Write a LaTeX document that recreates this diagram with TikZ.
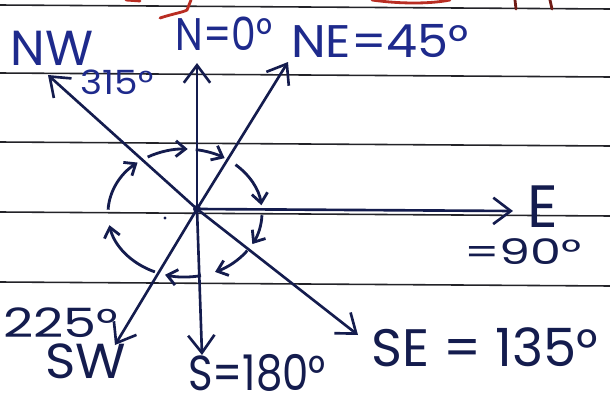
\documentclass[tikz,border=0pt]{standalone}
\usepackage{fontspec}
\setmainfont{Poppins}
\usepackage{graphicx}
\usetikzlibrary{arrows.meta}
\definecolor{ink}{RGB}{20,28,78}
\definecolor{pen}{RGB}{30,42,140}
\definecolor{redink}{RGB}{185,45,35}
\definecolor{rule}{RGB}{35,35,40}

\begin{document}
\begin{tikzpicture}[x=0.02cm, y=0.02cm,
  axis/.style={ink, line width=1.5pt, -{Straight Barb[length=10pt, width=15pt]}},
  ring/.style={ink, line width=1.6pt, -{Straight Barb[length=5.5pt, width=9pt]}},
  lab/.style={inner sep=0pt, anchor=base, font=\fontsize{#1}{#1}\selectfont},
  lab/.default=26]
  \useasboundingbox[fill=white] (0,0) rectangle (610,400);
  % ruled paper
  \foreach \y in {5, 73, 142, 212, 282}
    \draw[rule, line width=0.9pt] (0,400-\y) -- (610,396-\y);
  % cut-off red heading
  \draw[redink, line width=1.6pt, line cap=round]
    (160,382) .. controls (172,386) and (184,388) .. (187,390) -- (191,400)
    (126,400) -- (140,399) (372,400) .. controls (400,396) and (430,396) .. (450,400);
  \draw[redink!60!black, line width=1.6pt, line cap=round]
    (515,400) -- (516,391) (550,400) -- (552,391);
  % centre and tips
  \coordinate (O) at (197,191);
  \coordinate (R) at (185,187);
  \coordinate (n) at (197,337);
  \coordinate (ne) at (288,338);
  \coordinate (e) at (513,189);
  \coordinate (se) at (358,65);
  \coordinate (s) at (202,45);
  \coordinate (sw) at (115,55);
  \coordinate (nw) at (48,325);
  \foreach \t in {n, ne, e, se, s, sw, nw}
    \draw[axis] (O) -- (\t);
  \fill[ink] (O) circle[radius=4];
  \fill[ink] (165,182) circle[radius=1.6];
  % clockwise turns
  \foreach \a/\b in {177/128, 119/88, 82/59, 49/7, -2/-29, -36/-67, -78/-105, -113/-169}
    \draw[ring] (R) ++(\a:77 and 64) arc[start angle=\a, end angle=\b, x radius=77, y radius=64];
  % labels
  \node[lab=28, pen] (lnw) at (52,335) {NW};
  \node[lab=19, pen] (l315) at (117,306) {\scalebox{1.12}[1]{315°}};
  \node[lab, pen] (ln) at (224,350) {\scalebox{0.86}[1]{N=0°}};
  \node[lab, pen] (lne) at (380,343) {\scalebox{1.08}[1]{NE=45°}};
  \node[lab=34, ink] (le) at (543,173) {E};
  \node[lab=20, ink] (l90) at (523,135) {\scalebox{1.4}[1]{=90°}};
  \node[lab=23, ink] (l225) at (61,63) {\scalebox{1.3}[1]{225°}};
  \node[lab=28, ink] (lsw) at (86,22) {\scalebox{1.05}[1]{SW}};
  \node[lab=28, ink] (ls) at (257,10) {\scalebox{0.85}[1]{S=180°}};
  \node[lab=30, ink] (lse) at (485,33) {SE = 135°};
\end{tikzpicture}
\end{document}
